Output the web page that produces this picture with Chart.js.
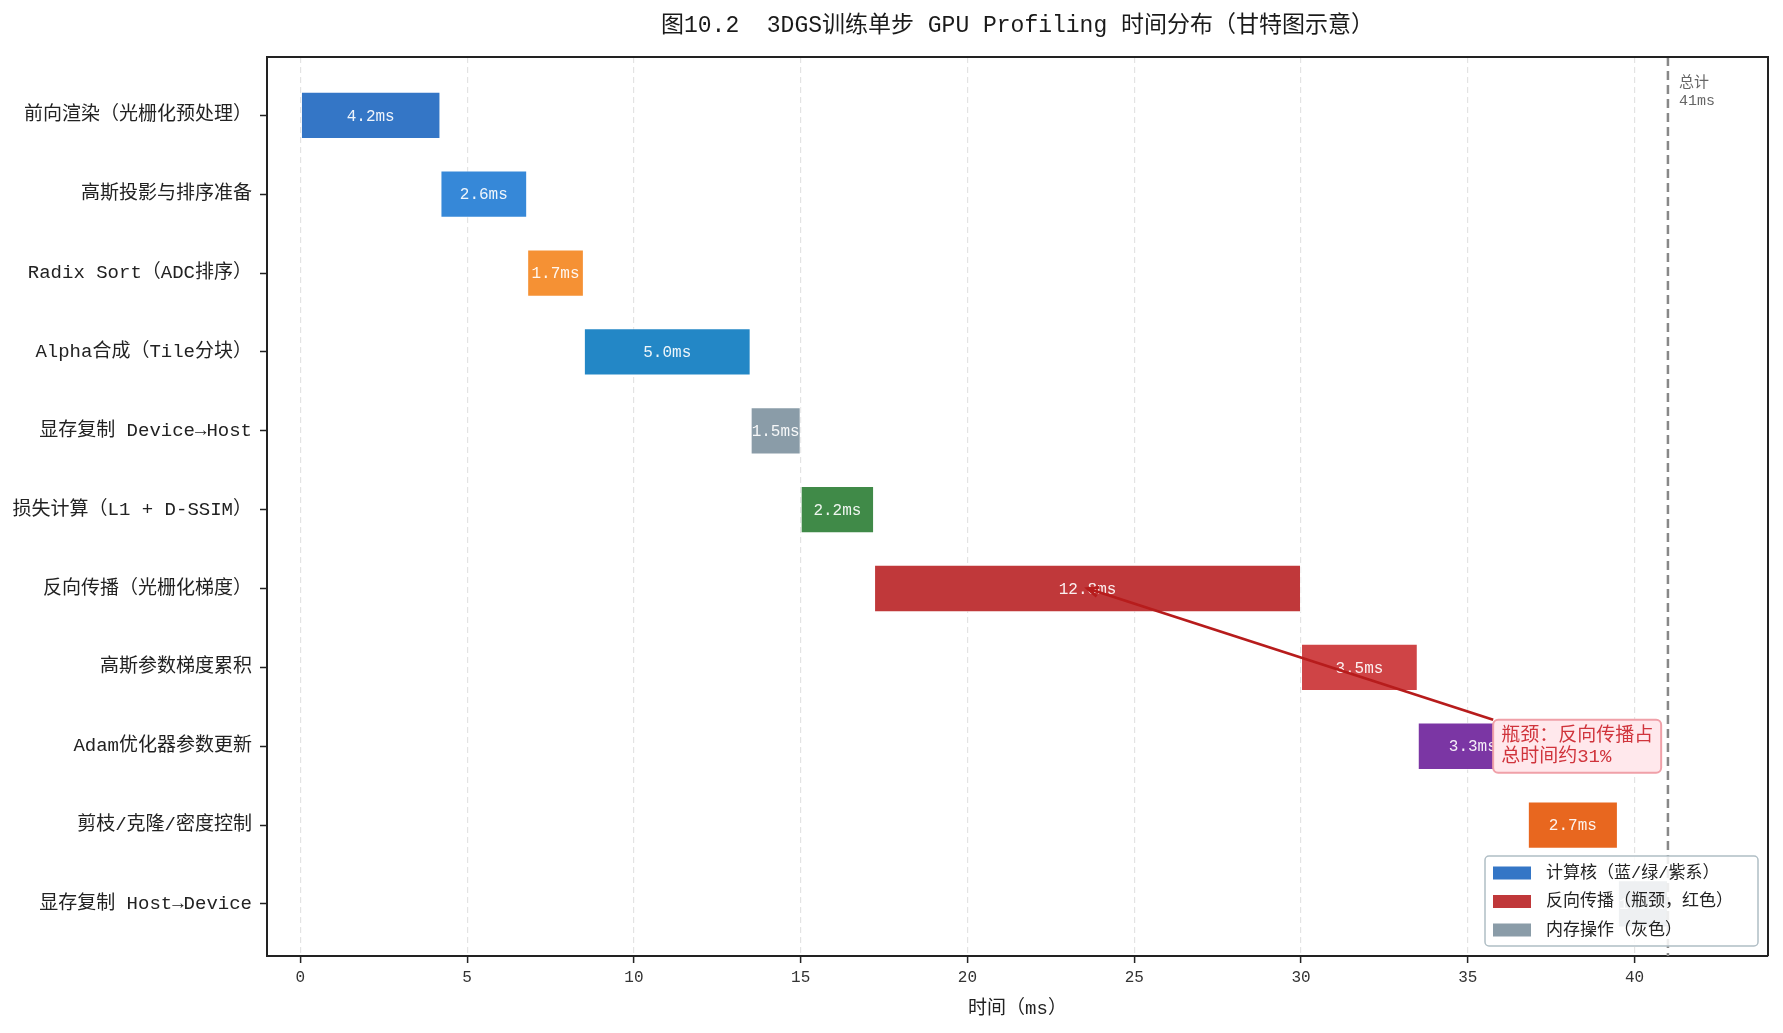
<!DOCTYPE html>
<html>
<head>
<meta charset="utf-8">
<title>3DGS GPU Profiling</title>
<script src="https://cdn.jsdelivr.net/npm/chart.js@4.4.0/dist/chart.umd.min.js"></script>
<style>
  html, body { margin: 0; padding: 0; background: #fff; }
  #wrap { width: 1783px; height: 1033px; }
</style>
</head>
<body>
<div id="wrap"><canvas id="gantt" width="1783" height="1033"></canvas></div>
<script>
const categories = [
  "前向渲染（光栅化预处理）",
  "高斯投影与排序准备",
  "Radix Sort（ADC排序）",
  "Alpha合成（Tile分块）",
  "显存复制 Device→Host",
  "损失计算（L1 + D-SSIM）",
  "反向传播（光栅化梯度）",
  "高斯参数梯度累积",
  "Adam优化器参数更新",
  "剪枝/克隆/密度控制",
  "显存复制 Host→Device"
];
const starts    = [0, 4.2, 6.8, 8.5, 13.5, 15.0, 17.2, 30.0, 33.5, 36.8, 39.5];
const durations = [4.2, 2.6, 1.7, 5.0, 1.5, 2.2, 12.8, 3.5, 3.3, 2.7, 1.5];
const barColors = [
  "#3476c6", "#3688d8", "#f59134", "#2387c6", "#8a9ca8", "#408a48",
  "#c0383a", "#cf4446", "#7b36a4", "#e8671f", "#8a9ca8"
];
const xTicks = [0, 5, 10, 15, 20, 25, 30, 35, 40];
const legendLabels = ["计算核（蓝/绿/紫系）", "反向传播（瓶颈，红色）", "内存操作（灰色）"];
const legendColors = ["#3476c6", "#c0383a", "#8a9ca8"];
const noteLines = ["瓶颈：反向传播占", "总时间约31%"];
const bottleneck = 6;

const FONT = "'Liberation Mono', 'Noto Sans CJK SC', monospace";

const ganttDecor = {
  id: "ganttDecor",
  afterDatasetsDraw(chart) {
    const { ctx, chartArea: a, scales: { x, y } } = chart;
    const meta = chart.getDatasetMeta(0);
    ctx.save();

    // 每个条形中间的耗时
    ctx.font = "16px " + FONT;
    ctx.fillStyle = "rgba(255,255,255,0.92)";
    ctx.textAlign = "center";
    ctx.textBaseline = "middle";
    meta.data.forEach((bar, i) => {
      ctx.fillText(durations[i].toFixed(1) + "ms", (bar.x + bar.base) / 2, bar.y + 1);
    });

    // 总计虚线
    const total = durations.reduce((s, v) => s + v, 0);
    const tx = x.getPixelForValue(total);
    ctx.strokeStyle = "#888";
    ctx.lineWidth = 2.5;
    ctx.setLineDash([9, 5]);
    ctx.beginPath();
    ctx.moveTo(tx, a.top);
    ctx.lineTo(tx, a.bottom);
    ctx.stroke();
    ctx.setLineDash([]);
    ctx.fillStyle = "#666";
    ctx.font = "15px " + FONT;
    ctx.textAlign = "left";
    ctx.textBaseline = "middle";
    ctx.fillText("总计", tx + 11, a.top + 26);
    ctx.fillText(Math.round(total) + "ms", tx + 11, a.top + 44);

    // 瓶颈标注
    const px = x.getPixelForValue(starts[bottleneck] + durations[bottleneck] / 2);
    const py = y.getPixelForValue(bottleneck);
    const nx = x.getPixelForValue(36);
    const ny = y.getPixelForValue(8);
    ctx.font = "19px " + FONT;
    const lh = 21;
    const tw = Math.max(...noteLines.map(t => ctx.measureText(t).width));
    const bx = nx - 8, bw = tw + 16;
    const bh = lh * noteLines.length + 11, by = ny - bh / 2;

    ctx.strokeStyle = "#b71c1c";
    ctx.lineWidth = 2.8;
    ctx.beginPath();
    ctx.moveTo(bx, by);
    ctx.lineTo(px, py);
    ctx.stroke();
    const ang = Math.atan2(by - py, bx - px);
    ctx.beginPath();
    ctx.moveTo(px + 12 * Math.cos(ang + 0.4), py + 12 * Math.sin(ang + 0.4));
    ctx.lineTo(px, py);
    ctx.lineTo(px + 12 * Math.cos(ang - 0.4), py + 12 * Math.sin(ang - 0.4));
    ctx.stroke();

    ctx.fillStyle = "#ffe8ec";
    ctx.strokeStyle = "#f0a0a8";
    ctx.lineWidth = 2;
    ctx.beginPath();
    ctx.roundRect(bx, by, bw, bh, 5);
    ctx.fill();
    ctx.stroke();
    ctx.fillStyle = "#d0343c";
    ctx.textAlign = "left";
    ctx.textBaseline = "middle";
    noteLines.forEach((t, i) => {
      ctx.fillText(t, nx, ny + (i - (noteLines.length - 1) / 2) * lh);
    });

    // 图例
    const lw = 273, lhgt = 90;
    const lx = a.right - 10 - lw, ly = a.bottom - 10 - lhgt;
    ctx.fillStyle = "rgba(255,255,255,0.85)";
    ctx.strokeStyle = "#b0bec5";
    ctx.lineWidth = 1.5;
    ctx.beginPath();
    ctx.roundRect(lx, ly, lw, lhgt, 4);
    ctx.fill();
    ctx.stroke();
    ctx.font = "17px " + FONT;
    legendLabels.forEach((t, i) => {
      const cy = ly + 17 + i * 28.5;
      ctx.fillStyle = legendColors[i];
      ctx.fillRect(lx + 8, cy - 6.5, 38, 13);
      ctx.fillStyle = "#222";
      ctx.fillText(t, lx + 61, cy);
    });

    // 上、右边框
    ctx.strokeStyle = "#222";
    ctx.lineWidth = 2;
    ctx.beginPath();
    ctx.moveTo(a.left, a.top);
    ctx.lineTo(a.right, a.top);
    ctx.lineTo(a.right, a.bottom);
    ctx.stroke();

    // 标题
    ctx.fillStyle = "#1a1a1a";
    ctx.font = "23px " + FONT;
    ctx.textAlign = "center";
    ctx.fillText("图10.2  3DGS训练单步 GPU Profiling 时间分布（甘特图示意）", (a.left + a.right) / 2, 26);
    ctx.restore();
  }
};

new Chart(document.getElementById("gantt"), {
  type: "bar",
  data: {
    datasets: [{
      data: categories.map((c, i) => ({ x: [starts[i], starts[i] + durations[i]], y: i })),
      backgroundColor: barColors,
      borderColor: "rgba(255,255,255,0.6)",
      borderWidth: 1,
      borderSkipped: false,
      categoryPercentage: 1.0,
      barPercentage: 0.6
    }]
  },
  options: {
    indexAxis: "y",
    responsive: false,
    animation: false,
    layout: { padding: { top: 57, right: 15, bottom: 0, left: 0 } },
    plugins: {
      legend: { display: false },
      tooltip: { enabled: false },
      title: { display: false }
    },
    scales: {
      x: {
        type: "linear",
        min: -1,
        max: 44,
        afterBuildTicks: s => { s.ticks = xTicks.map(v => ({ value: v })); },
        afterFit: s => { s.height = 77; },
        grid: { color: "#e3e3e3", lineWidth: 1.2, tickColor: "#222", tickLength: 7, tickWidth: 1.5 },
        border: { display: true, color: "#222", width: 2, dash: [6, 4] },
        ticks: { color: "#333", font: { family: FONT, size: 16 }, padding: 5 },
        title: {
          display: true,
          text: "时间（ms）",
          color: "#222",
          font: { family: FONT, size: 19 },
          padding: { top: 0, bottom: 13 }
        }
      },
      y: {
        type: "linear",
        reverse: true,
        offset: false,
        min: -0.74,
        max: 10.66,
        afterBuildTicks: s => { s.ticks = categories.map((c, i) => ({ value: i })); },
        afterFit: s => { s.width = 267; },
        grid: { offset: false, drawOnChartArea: false, color: "#222", tickLength: 7, tickWidth: 1.5 },
        border: { display: true, color: "#222", width: 2 },
        ticks: {
          autoSkip: false,
          color: "#222",
          font: { family: FONT, size: 19 },
          padding: 8,
          callback: v => categories[v] || ""
        }
      }
    }
  },
  plugins: [ganttDecor]
});
</script>
</body>
</html>
